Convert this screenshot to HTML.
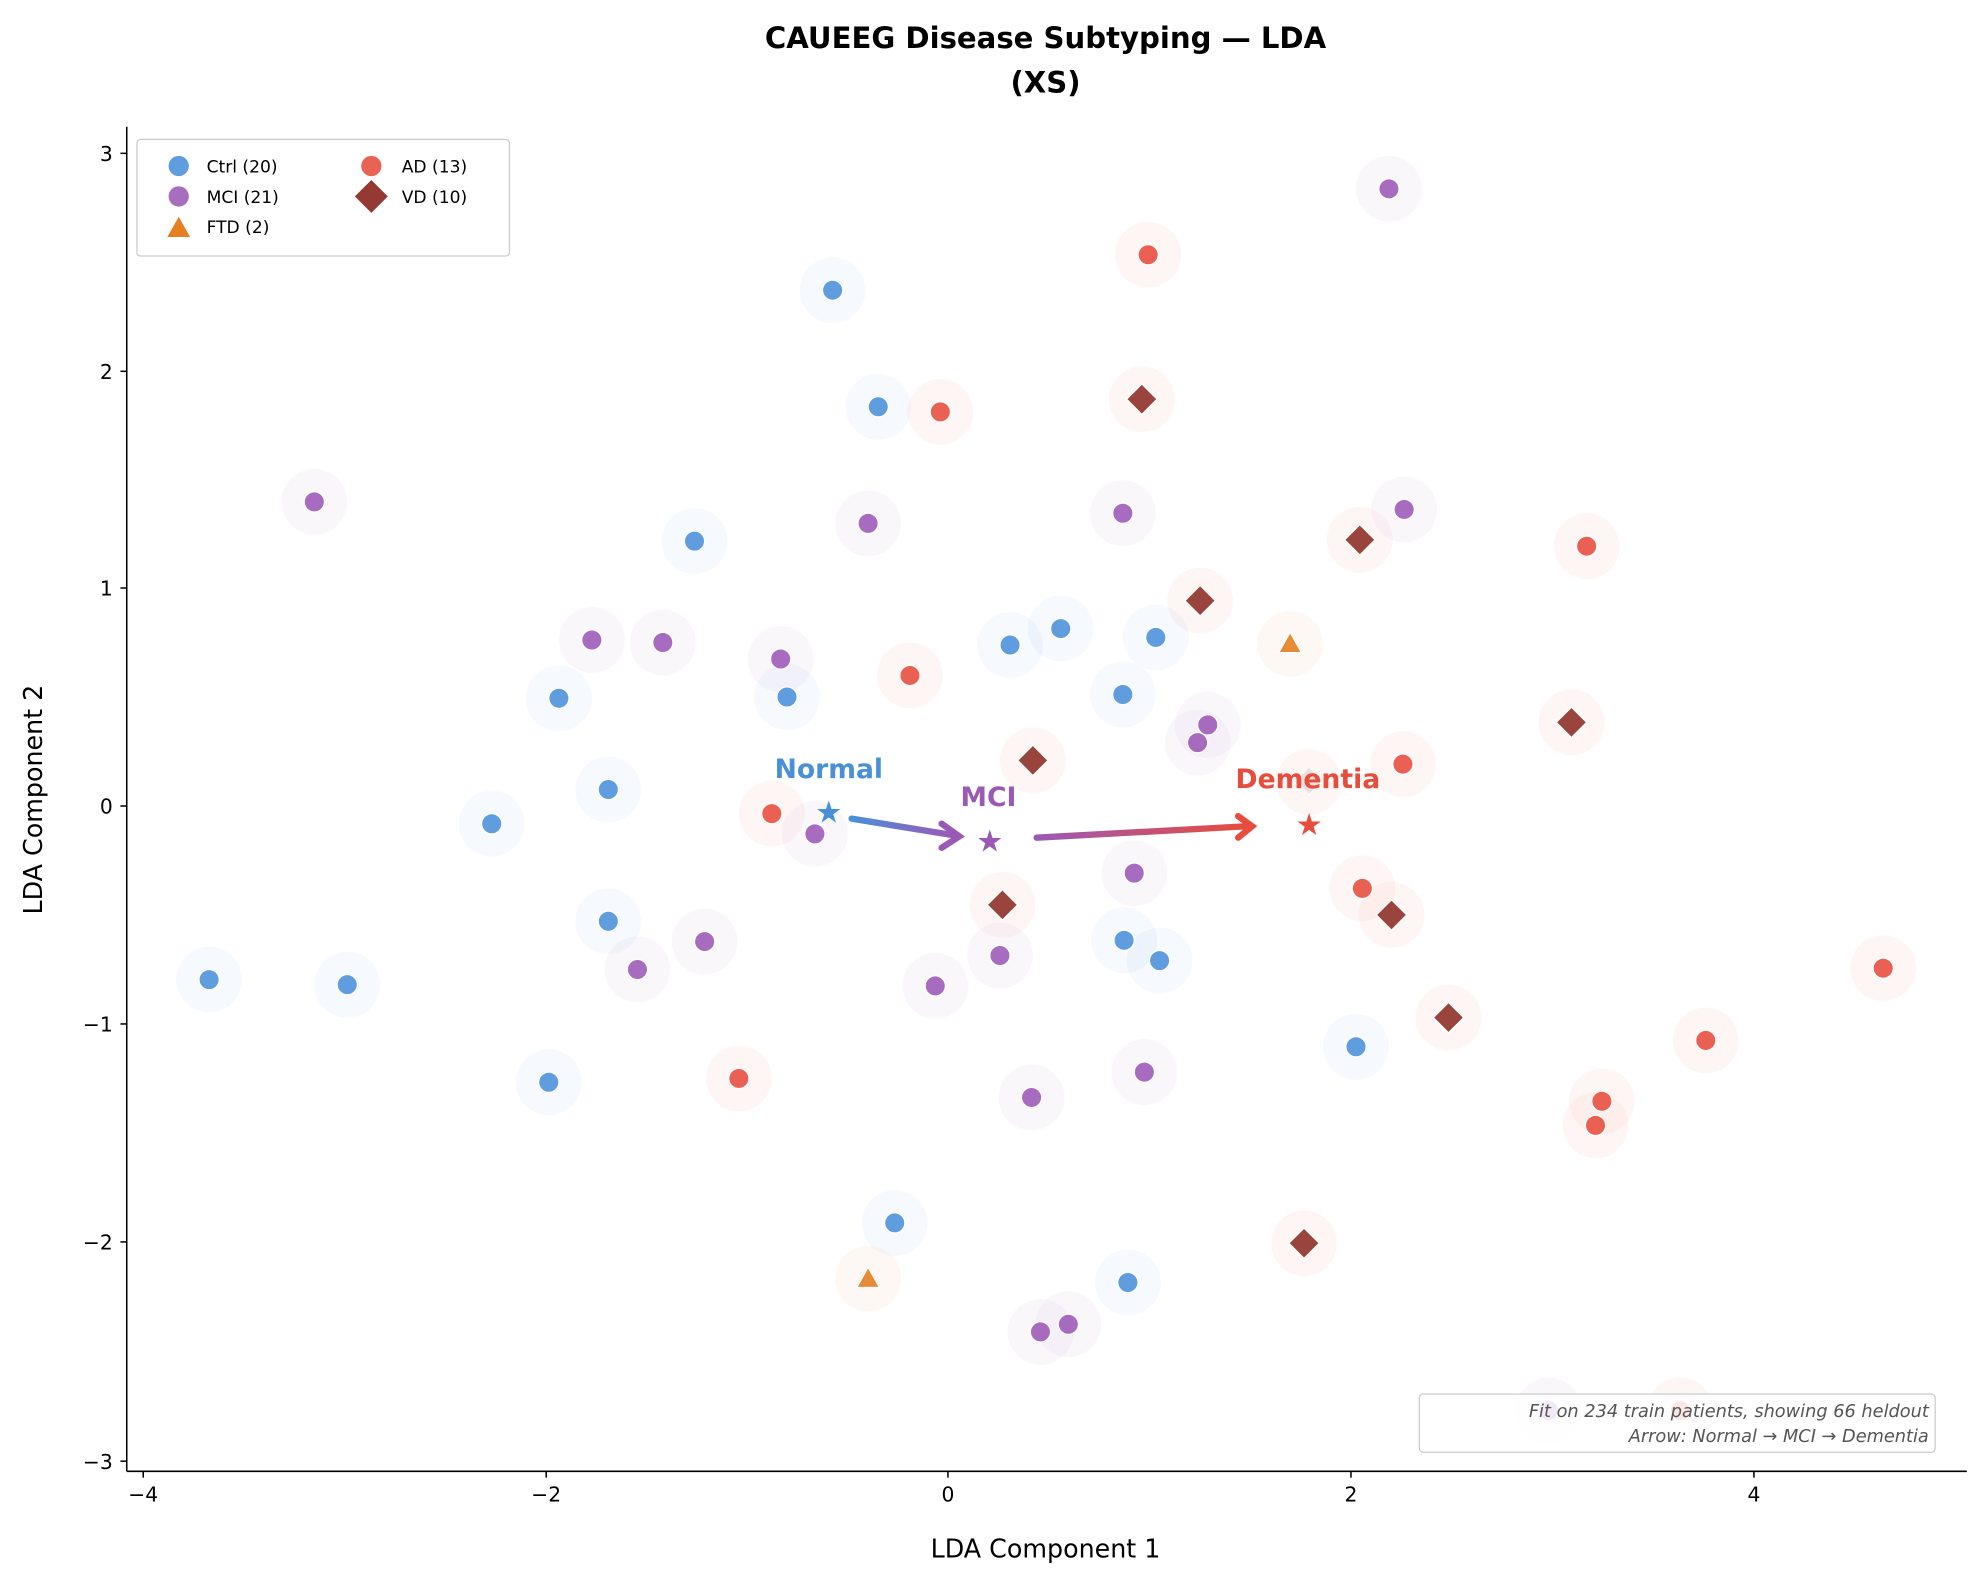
<!DOCTYPE html>
<html><head><meta charset="utf-8"><style>html,body{margin:0;padding:0;background:#fff}svg{display:block}text{font-family:"DejaVu Sans","Liberation Sans",sans-serif}</style></head>
<body>
<svg width="1977" height="1577" viewBox="0 0 1560 1244.4" xmlns="http://www.w3.org/2000/svg">
<defs>
<linearGradient id="g1" x1="0" x2="1"><stop offset="0" stop-color="#4a90d9"/><stop offset="1" stop-color="#9b59b6"/></linearGradient>
<linearGradient id="g2" x1="0" x2="1"><stop offset="0" stop-color="#9b59b6"/><stop offset="1" stop-color="#e74c3c"/></linearGradient>
</defs>
<text x="825" y="38" font-size="23" font-weight="bold" text-anchor="middle">CAUEEG Disease Subtyping — LDA</text>
<text x="825" y="73" font-size="23" font-weight="bold" text-anchor="middle">(XS)</text>
<g id="halos" fill-opacity="0.05">
<g fill="#4a90d9">
<circle cx="657" cy="229" r="26"/><circle cx="693" cy="321" r="26"/><circle cx="548" cy="427" r="26"/><circle cx="797" cy="509" r="26"/><circle cx="837" cy="496" r="26"/><circle cx="912" cy="503" r="26"/><circle cx="621" cy="550" r="26"/><circle cx="441" cy="551" r="26"/><circle cx="886" cy="548" r="26"/><circle cx="480" cy="623" r="26"/><circle cx="388" cy="650" r="26"/><circle cx="480" cy="727" r="26"/><circle cx="165" cy="773" r="26"/><circle cx="274" cy="777" r="26"/><circle cx="887" cy="742" r="26"/><circle cx="915" cy="758" r="26"/><circle cx="433" cy="854" r="26"/><circle cx="1070" cy="826" r="26"/><circle cx="706" cy="965" r="26"/><circle cx="890" cy="1012" r="26"/></g>
<g fill="#9b59b6">
<circle cx="248" cy="396" r="26"/><circle cx="1096" cy="149" r="26"/><circle cx="685" cy="413" r="26"/><circle cx="886" cy="405" r="26"/><circle cx="1108" cy="402" r="26"/><circle cx="467" cy="505" r="26"/><circle cx="523" cy="507" r="26"/><circle cx="616" cy="520" r="26"/><circle cx="953" cy="572" r="26"/><circle cx="945" cy="586" r="26"/><circle cx="643" cy="658" r="26"/><circle cx="556" cy="743" r="26"/><circle cx="503" cy="765" r="26"/><circle cx="789" cy="754" r="26"/><circle cx="738" cy="778" r="26"/><circle cx="895" cy="689" r="26"/><circle cx="814" cy="866" r="26"/><circle cx="903" cy="846" r="26"/><circle cx="843" cy="1045" r="26"/><circle cx="821" cy="1051" r="26"/><circle cx="1222" cy="1113" r="26"/></g>
<g fill="#e74c3c">
<circle cx="906" cy="201" r="26"/><circle cx="742" cy="325" r="26"/><circle cx="718" cy="533" r="26"/><circle cx="1252" cy="431" r="26"/><circle cx="1107" cy="603" r="26"/><circle cx="609" cy="642" r="26"/><circle cx="1075" cy="701" r="26"/><circle cx="1486" cy="764" r="26"/><circle cx="1346" cy="821" r="26"/><circle cx="583" cy="851" r="26"/><circle cx="1264" cy="869" r="26"/><circle cx="1259" cy="888" r="26"/><circle cx="1326" cy="1113" r="26"/>
<circle cx="901" cy="315" r="26"/><circle cx="1073" cy="426" r="26"/><circle cx="947" cy="474" r="26"/><circle cx="1240" cy="570" r="26"/><circle cx="815" cy="600" r="26"/><circle cx="791" cy="714" r="26"/><circle cx="1098" cy="722" r="26"/><circle cx="1143" cy="803" r="26"/><circle cx="1029" cy="981" r="26"/><circle cx="1033" cy="617" r="26"/></g>
<g fill="#e67e22"><circle cx="1018" cy="508" r="26"/><circle cx="685" cy="1009" r="26"/></g>
</g>
<g stroke="#fff" stroke-width="1">
<g fill="#4a90d9" fill-opacity="0.88">
<circle cx="657" cy="229" r="8"/><circle cx="693" cy="321" r="8"/><circle cx="548" cy="427" r="8"/><circle cx="797" cy="509" r="8"/><circle cx="837" cy="496" r="8"/><circle cx="912" cy="503" r="8"/><circle cx="621" cy="550" r="8"/><circle cx="441" cy="551" r="8"/><circle cx="886" cy="548" r="8"/><circle cx="480" cy="623" r="8"/><circle cx="388" cy="650" r="8"/><circle cx="480" cy="727" r="8"/><circle cx="165" cy="773" r="8"/><circle cx="274" cy="777" r="8"/><circle cx="887" cy="742" r="8"/><circle cx="915" cy="758" r="8"/><circle cx="433" cy="854" r="8"/><circle cx="1070" cy="826" r="8"/><circle cx="706" cy="965" r="8"/><circle cx="890" cy="1012" r="8"/></g>
<g fill="#9b59b6" fill-opacity="0.88">
<circle cx="248" cy="396" r="8"/><circle cx="1096" cy="149" r="8"/><circle cx="685" cy="413" r="8"/><circle cx="886" cy="405" r="8"/><circle cx="1108" cy="402" r="8"/><circle cx="467" cy="505" r="8"/><circle cx="523" cy="507" r="8"/><circle cx="616" cy="520" r="8"/><circle cx="953" cy="572" r="8"/><circle cx="945" cy="586" r="8"/><circle cx="643" cy="658" r="8"/><circle cx="556" cy="743" r="8"/><circle cx="503" cy="765" r="8"/><circle cx="789" cy="754" r="8"/><circle cx="738" cy="778" r="8"/><circle cx="895" cy="689" r="8"/><circle cx="814" cy="866" r="8"/><circle cx="903" cy="846" r="8"/><circle cx="843" cy="1045" r="8"/><circle cx="821" cy="1051" r="8"/><circle cx="1222" cy="1113" r="8"/></g>
<g fill="#e74c3c" fill-opacity="0.88">
<circle cx="906" cy="201" r="8"/><circle cx="742" cy="325" r="8"/><circle cx="718" cy="533" r="8"/><circle cx="1252" cy="431" r="8"/><circle cx="1107" cy="603" r="8"/><circle cx="609" cy="642" r="8"/><circle cx="1075" cy="701" r="8"/><circle cx="1486" cy="764" r="8"/><circle cx="1346" cy="821" r="8"/><circle cx="583" cy="851" r="8"/><circle cx="1264" cy="869" r="8"/><circle cx="1259" cy="888" r="8"/><circle cx="1326" cy="1113" r="8"/></g>
<g fill="#943a32" fill-opacity="0.95">
<path d="M901 303l12 12-12 12-12-12z"/><path d="M1073 414l12 12-12 12-12-12z"/><path d="M947 462l12 12-12 12-12-12z"/><path d="M1240 558l12 12-12 12-12-12z"/><path d="M815 588l12 12-12 12-12-12z"/><path d="M791 702l12 12-12 12-12-12z"/><path d="M1098 710l12 12-12 12-12-12z"/><path d="M1143 791l12 12-12 12-12-12z"/><path d="M1029 969l12 12-12 12-12-12z"/></g>
<g fill="#e67e22" fill-opacity="0.9"><path d="M1018 499l9 16h-18z"/><path d="M685 1000l9 16h-18z"/></g>
</g>
<path d="M1033 606l10 10-10 10-10-10z" fill="#ccc" fill-opacity="0.5"/>
<line x1="672" y1="646" x2="752" y2="659" stroke="url(#g1)" stroke-width="5" stroke-linecap="round"/>
<path d="M743 650l14 10-14 9" fill="none" stroke="#9b59b6" stroke-width="5" stroke-linecap="round"/>
<line x1="818" y1="661" x2="984" y2="652" stroke="url(#g2)" stroke-width="5" stroke-linecap="round"/>
<path d="M977 644l11 8-11 9" fill="none" stroke="#e74c3c" stroke-width="5" stroke-linecap="round"/>
<text x="654" y="649" font-size="24" fill="#4a90d9" text-anchor="middle">★</text>
<text x="781" y="672" font-size="24" fill="#9b59b6" text-anchor="middle">★</text>
<text x="1033" y="659" font-size="24" fill="#e74c3c" text-anchor="middle">★</text>
<text x="654" y="614" font-size="21" font-weight="bold" fill="#4a90d9" text-anchor="middle">Normal</text>
<text x="780" y="636" font-size="21" font-weight="bold" fill="#9b59b6" text-anchor="middle">MCI</text>
<text x="1032" y="622" font-size="21" font-weight="bold" fill="#e74c3c" text-anchor="middle">Dementia</text>
<rect x="1120" y="1100" width="407" height="46" rx="3" fill="#fff" fill-opacity="0.85" stroke="#ccc"/>
<text x="1522" y="1118" font-size="14" font-style="italic" fill="#555" text-anchor="end">Fit on 234 train patients, showing 66 heldout</text>
<text x="1522" y="1138" font-size="14" font-style="italic" fill="#555" text-anchor="end">Arrow: Normal → MCI → Dementia</text>
<g stroke="#000" stroke-width="1.2">
<line x1="100" y1="100" x2="100" y2="1161"/><line x1="100" y1="1161" x2="1552" y2="1161"/>
<line x1="113" y1="1161" x2="113" y2="1166"/><line x1="431" y1="1161" x2="431" y2="1166"/><line x1="748" y1="1161" x2="748" y2="1166"/><line x1="1066" y1="1161" x2="1066" y2="1166"/><line x1="1384" y1="1161" x2="1384" y2="1166"/>
<line x1="95" y1="121" x2="100" y2="121"/><line x1="95" y1="293" x2="100" y2="293"/><line x1="95" y1="464" x2="100" y2="464"/><line x1="95" y1="636" x2="100" y2="636"/><line x1="95" y1="808" x2="100" y2="808"/><line x1="95" y1="980" x2="100" y2="980"/><line x1="95" y1="1153" x2="100" y2="1153"/>
</g>
<g font-size="16" text-anchor="middle">
<text x="113" y="1185">−4</text><text x="431" y="1185">−2</text><text x="748" y="1185">0</text><text x="1066" y="1185">2</text><text x="1384" y="1185">4</text></g>
<g font-size="16" text-anchor="end">
<text x="89" y="127">3</text><text x="89" y="299">2</text><text x="89" y="470">1</text><text x="89" y="642">0</text><text x="89" y="814">−1</text><text x="89" y="986">−2</text><text x="89" y="1159">−3</text></g>
<text x="825" y="1229" font-size="20" text-anchor="middle">LDA Component 1</text>
<text transform="translate(33,631) rotate(-90)" font-size="20" text-anchor="middle">LDA Component 2</text>
<rect x="108" y="110" width="294" height="92" rx="3" fill="#fff" stroke="#ccc"/>
<g font-size="13.5">
<circle cx="141" cy="131" r="8" fill="#4a90d9" fill-opacity="0.88"/><text x="163" y="136">Ctrl (20)</text>
<circle cx="141" cy="155" r="8" fill="#9b59b6" fill-opacity="0.88"/><text x="163" y="160">MCI (21)</text>
<path d="M141 171l9 16h-18z" fill="#e67e22"/><text x="163" y="184">FTD (2)</text>
<circle cx="293" cy="131" r="8" fill="#e74c3c" fill-opacity="0.88"/><text x="317" y="136">AD (13)</text>
<path d="M293 142l13 13-13 13-13-13z" fill="#943a32"/><text x="317" y="160">VD (10)</text>
</g>
</svg>
</body></html>
